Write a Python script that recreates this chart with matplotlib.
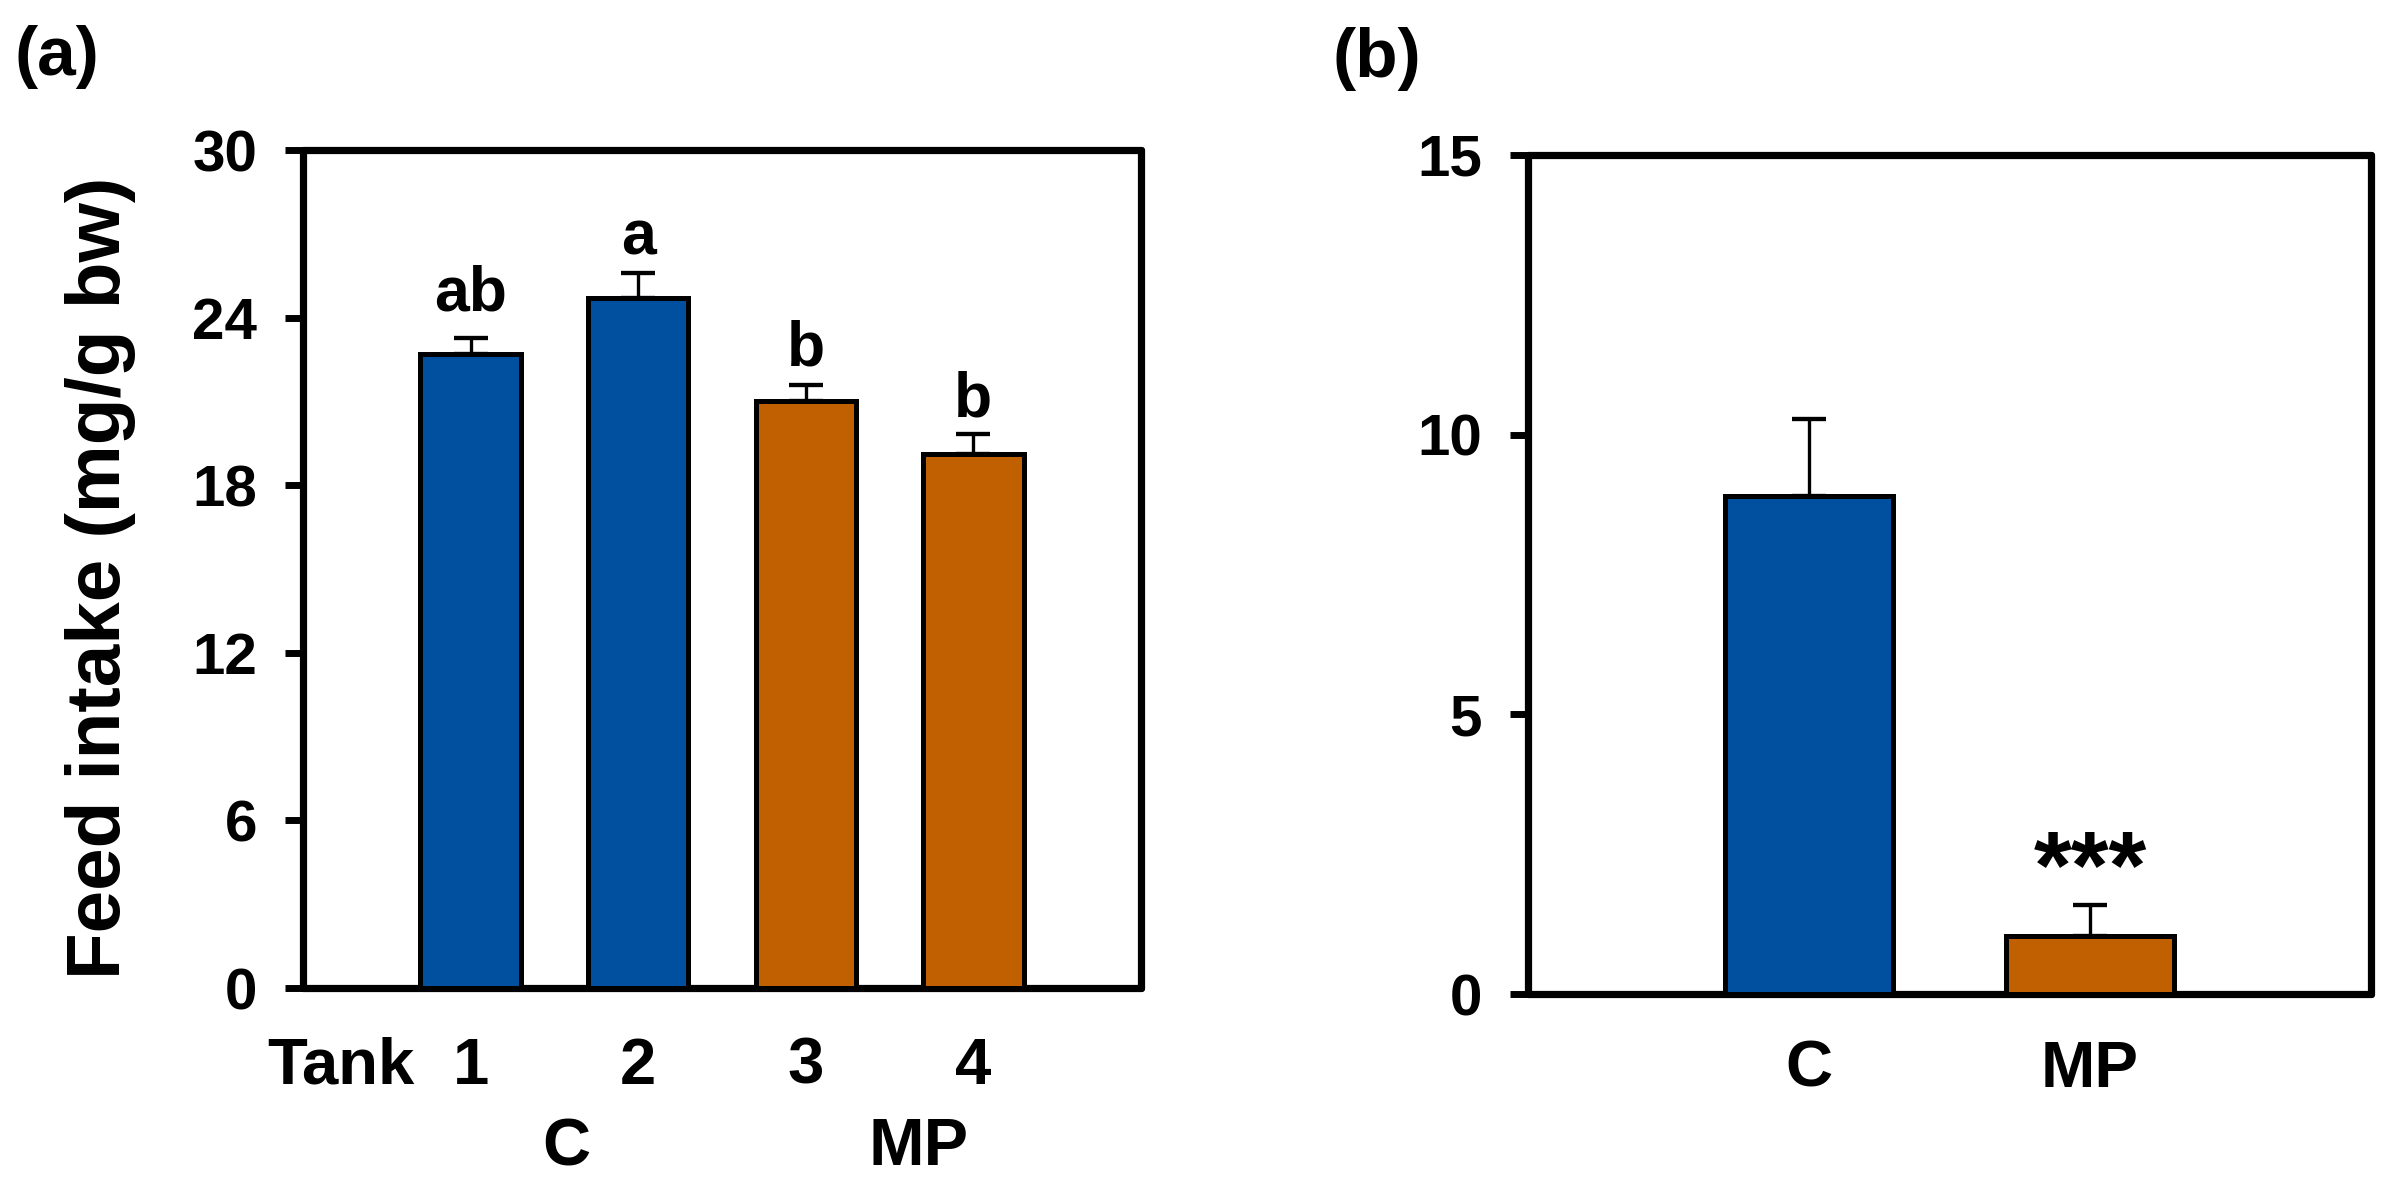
import matplotlib
matplotlib.use("Agg")
import matplotlib.pyplot as plt
from matplotlib.transforms import blended_transform_factory

plt.rcParams['font.family'] = ['Liberation Sans', 'DejaVu Sans']
plt.rcParams['font.weight'] = 'bold'

# ---- data ----
tanks = ['1', '2', '3', '4']
tank_means = [22.7, 24.7, 21.0, 19.1]
tank_sems = [0.57, 0.9, 0.6, 0.75]
tank_letters = ['ab', 'a', 'b', 'b']
tank_groups = ['C', 'C', 'MP', 'MP']

groups = ['C', 'MP']
group_means = [8.9, 1.04]
group_sems = [1.38, 0.55]
group_sig = ['', '***']

yticks_a = [0, 6, 12, 18, 24, 30]
yticks_b = [0, 5, 10, 15]
ylabel = 'Feed intake (mg/g bw)'

# ---- style ----
BLUE = '#00509F'
ORANGE = '#C06000'
colors = {'C': BLUE, 'MP': ORANGE}
W, H = 2386, 1190
fig = plt.figure(figsize=(W / 100, H / 100), dpi=100)

def fx(px):
    return px / W

def fy(py):
    return 1 - py / H

ax1 = fig.add_axes([fx(303), fy(988), fx(1141) - fx(303), fy(150) - fy(988)])
ax2 = fig.add_axes([fx(1528), fy(994), fx(2371) - fx(1528), fy(155) - fy(994)])

SPINE_LW = 5.2
BAR_LW = 3.6
ERR_LW = 2.4

def style_axes(ax, yticks, xpad):
    for s in ax.spines.values():
        s.set_linewidth(SPINE_LW)
        s.set_capstyle('round')
    ax.set_yticks(yticks)
    ax.set_ylim(yticks[0], yticks[-1])
    ax.tick_params(axis='y', direction='out', length=13, width=5, pad=20,
                   labelsize=42)
    ax.tick_params(axis='x', length=0, pad=xpad, labelsize=47)
    for lab in ax.get_yticklabels() + ax.get_xticklabels():
        lab.set_fontweight('bold')

# ---- panel a ----
xa = list(range(1, len(tanks) + 1))
ax1.bar(xa, tank_means, width=0.6, color=[colors[g] for g in tank_groups],
        edgecolor='black', linewidth=BAR_LW, zorder=3,
        yerr=[[0] * len(tank_sems), tank_sems],
        error_kw=dict(ecolor='black', elinewidth=ERR_LW, capsize=12,
                      capthick=ERR_LW * 1.3, zorder=2))
ax1.set_xlim(0, len(tanks) + 1)
ax1.set_xticks(xa, tanks)
style_axes(ax1, yticks_a, 35)

letter_offsets = [27, 18, 19, 17]  # px above error cap
for x, m, s, lab, off in zip(xa, tank_means, tank_sems, tank_letters, letter_offsets):
    ax1.annotate(lab, (x, m + s), xytext=(0, off * 0.72), textcoords='offset points',
                 ha='center', va='baseline', fontsize=45, fontweight='bold')

ax1.set_ylabel(ylabel, fontsize=55, fontweight='bold')
ax1.yaxis.label.set_va('center')
ax1.yaxis.set_label_coords(-0.242, 0.49)

trans1 = blended_transform_factory(ax1.transData, fig.transFigure)
ax1.text(-0.215, fy(1037), 'Tank', transform=trans1, ha='left', va='top',
         fontsize=47, fontweight='bold')
# group labels below the tank numbers
c_pos = sum(x for x, g in zip(xa, tank_groups) if g == 'C') / tank_groups.count('C')
mp_pos = sum(x for x, g in zip(xa, tank_groups) if g == 'MP') / tank_groups.count('MP')
ax1.text(c_pos + 0.07, fy(1117), 'C', transform=trans1, ha='center', va='top',
         fontsize=48, fontweight='bold')
ax1.text(mp_pos + 0.17, fy(1117), 'MP', transform=trans1, ha='center', va='top',
         fontsize=48, fontweight='bold')

# ---- panel b ----
xb = list(range(1, len(groups) + 1))
ax2.bar(xb, group_means, width=0.6, color=[colors[g] for g in groups],
        edgecolor='black', linewidth=BAR_LW, zorder=3,
        yerr=[[0] * len(group_sems), group_sems],
        error_kw=dict(ecolor='black', elinewidth=ERR_LW, capsize=12,
                      capthick=ERR_LW * 1.3, zorder=2))
ax2.set_xlim(0, len(groups) + 1)
ax2.set_xticks(xb, groups)
style_axes(ax2, yticks_b, 33)

for x, m, s, lab in zip(xb, group_means, group_sems, group_sig):
    if lab:
        ax2.annotate(lab, (x, m + s), xytext=(0, 5), textcoords='offset points',
                     ha='center', va='baseline', fontsize=70, fontweight='bold')

fig.text(fx(15), fy(25), '(a)', ha='left', va='top', fontsize=50, fontweight='bold')
fig.text(fx(1332), fy(27), '(b)', ha='left', va='top', fontsize=50, fontweight='bold')

fig.savefig('out.png', dpi=100)
